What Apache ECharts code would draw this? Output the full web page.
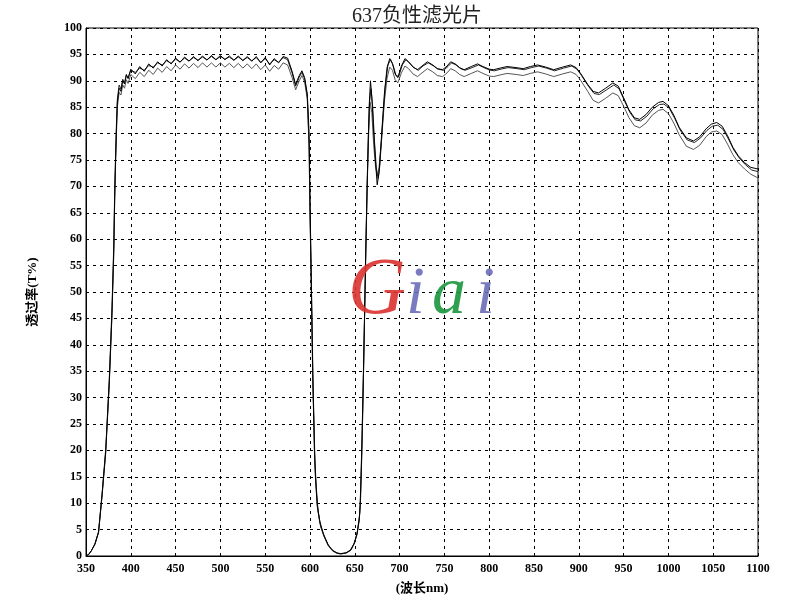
<!DOCTYPE html>
<html>
<head>
<meta charset="utf-8">
<script src="https://cdn.jsdelivr.net/npm/echarts@6/dist/echarts.min.js"></script>
<style>html,body{margin:0;padding:0;background:#fff}#c{width:800px;height:600px}</style>
</head>
<body>
<div id="c"></div>
<script>
const chartTitle = '637负性滤光片';
const xName = '(波长nm)';
const yName = '透过率(T%)';
const xTicks = [350, 1100, 50];
const yTicks = [0, 100, 5];
const watermark = ['G', 'i', 'a', 'i'];

const curveA = [[350,0],[353,0.3],[356,1],[360,2.3],[364,4.5],[368,11.7],[372,19.8],[376,33],[379,46],[381,58],[382,68],[383,75],[384,81],[385,86],[387,88.6],[389,88],[391,90],[393,89.4],[395,91.2],[397,90.4],[400,92.2],[405,91.3],[410,92.7],[415,91.8],[420,93.2],[425,92.4],[430,93.6],[435,92.8],[440,94.0],[445,93.2],[450,94.3],[455,93.5],[460,94.5],[465,93.7],[470,94.6],[475,93.8],[480,94.7],[485,93.9],[490,94.8],[495,94.0],[500,94.8],[505,94.0],[510,94.7],[515,93.9],[520,94.7],[525,93.8],[530,94.6],[535,93.7],[540,94.6],[545,93.4],[550,94.4],[555,93.0],[560,94.2],[565,93.4],[570,94.6],[575,94.3],[580,91.8],[584,89.3],[588,91.0],[591,91.9],[594,90.6],[597,87.5],[599,80],[600,68],[601,57],[603,35],[605,20],[606,15.5],[608,9.8],[611,6.5],[615,4.2],[620,2.2],[625,1.1],[630,0.6],[634,0.45],[640,0.6],[645,1.1],[649,2.3],[652.5,4.2],[655,7],[656,9.8],[657,15.5],[658,22],[660,38],[662,56],[664,72],[666,85],[667.5,90],[669,87],[671,80.5],[673,75],[675,70.3],[677,72.5],[680,80],[683,87.5],[686,92.5],[689,94.2],[692,93.3],[695,91.3],[698,90.6],[702,92.8],[706,94.2],[710,93.6],[715,92.6],[720,92.1],[725,92.8],[731,93.6],[737,93.0],[742,92.3],[748,92.1],[753,92.8],[757,93.6],[762,93.2],[767,92.5],[772,92.1],[780,92.7],[787,93.2],[793,92.7],[800,92.2],[805,92.1],[812,92.4],[820,92.7],[830,92.5],[838,92.3],[846,92.7],[854,93.0],[863,92.6],[872,92.1],[882,92.6],[891,93.0],[897,92.5],[902,91.4],[910,89.3],[916,88.0],[922,87.7],[930,88.6],[938,89.6],[944,89.0],[950,86.8],[956,84.5],[962,83.0],[968,82.7],[975,83.6],[982,85.0],[989,85.9],[994,86.1],[1000,85.3],[1006,83.5],[1012,81.2],[1020,79.2],[1028,78.6],[1035,79.4],[1042,80.9],[1048,81.8],[1054,82.1],[1060,81.4],[1066,79.6],[1072,77.4],[1078,75.8],[1085,74.5],[1092,73.6],[1100,73.3]];

const curveB = [[350,0],[353,0.3],[356,1],[360,2.3],[364,4.6],[368,11.9],[372,20.2],[376,33.5],[379,47],[381,59],[382,69],[383,76],[384,82],[385,86.5],[387,89.2],[389,88.4],[391,90.3],[393,89.6],[395,91.0],[397,90.6],[400,92.0],[405,91.6],[410,92.4],[415,92.0],[420,92.9],[425,92.6],[430,93.4],[435,93.0],[440,93.8],[445,93.3],[450,94.1],[455,93.6],[460,94.3],[465,93.8],[470,94.4],[475,93.9],[480,94.5],[485,94.0],[490,94.6],[495,94.0],[500,94.6],[505,94.1],[510,94.5],[515,93.9],[520,94.5],[525,93.9],[530,94.4],[535,93.8],[540,94.4],[545,93.5],[550,94.2],[555,93.2],[560,94.0],[565,93.5],[570,94.4],[575,94.0],[580,91.5],[584,89.0],[588,90.7],[591,91.6],[594,90.4],[597,87.0],[599,78],[600,65],[601.5,52],[603.5,32],[605.5,18],[607,13],[609,8.5],[612,5.5],[616,3.6],[621,1.9],[626,0.9],[631,0.5],[635,0.4],[641,0.6],[646,1.2],[650,2.6],[653,4.8],[655.5,8],[656.5,11],[657.5,17],[659,28],[661,46],[663,64],[665,79],[666.5,86],[668,88.5],[670,85],[672,78.5],[674,73.5],[676,71.5],[678,74],[681,82],[684,89],[687,93],[690,94],[693,92.8],[696,91],[699,90.8],[703,93.0],[707,94.0],[711,93.4],[716,92.5],[721,92.0],[726,92.8],[732,93.4],[738,92.8],[743,92.2],[749,92.0],[754,92.7],[758,93.4],[763,93.0],[768,92.3],[773,92.0],[781,92.5],[788,93.0],[794,92.5],[801,92.0],[806,91.9],[813,92.2],[821,92.5],[831,92.3],[839,92.1],[847,92.5],[855,92.8],[864,92.4],[873,91.9],[883,92.4],[892,92.8],[898,92.2],[903,91.0],[911,88.9],[917,87.6],[923,87.4],[931,88.3],[939,89.2],[945,88.5],[951,86.2],[957,84.0],[963,82.6],[969,82.4],[976,83.3],[983,84.7],[990,85.5],[995,85.6],[1001,84.8],[1007,82.9],[1013,80.7],[1021,78.8],[1029,78.3],[1036,79.2],[1043,80.6],[1049,81.4],[1055,81.6],[1061,80.8],[1067,79.0],[1073,76.9],[1079,75.4],[1086,74.1],[1093,73.1],[1100,72.8]];

const curveC = [[350,0],[353,0.3],[356,1],[360,2.2],[364,4.4],[368,11.5],[372,19.5],[376,32.5],[379,45.5],[381,57],[382,67],[383,74],[384,80],[385,85],[387,87.8],[389,87.3],[391,89.2],[393,88.6],[395,90.2],[397,89.5],[400,91.2],[405,90.4],[410,91.6],[415,90.8],[420,92.0],[425,91.2],[430,92.4],[435,91.6],[440,92.7],[445,91.9],[450,93.0],[455,92.2],[460,93.2],[465,92.4],[470,93.3],[475,92.5],[480,93.4],[485,92.6],[490,93.4],[495,92.6],[500,93.4],[505,92.6],[510,93.3],[515,92.5],[520,93.3],[525,92.4],[530,93.2],[535,92.3],[540,93.2],[545,92.1],[550,93.0],[555,91.8],[560,92.9],[565,92.2],[570,93.4],[575,93.0],[580,90.6],[584,88.3],[588,90.0],[591,91.0],[594,89.8],[597,86.5],[599,77],[600,64],[601,55],[603,34],[605,19.5],[606,15],[608,9.5],[611,6.2],[615,4.0],[620,2.0],[625,1.0],[630,0.5],[634,0.4],[640,0.55],[645,1.0],[649,2.2],[652.5,4.0],[655,6.8],[656,9.5],[657,15],[658,21],[660,37],[662,55],[664,71],[665.5,80],[667,86],[669,84],[671,78],[673,74],[675,72],[677,73.5],[680,79],[683,86],[686,90.5],[689,92.6],[692,92.0],[695,90.2],[698,89.6],[702,91.5],[706,92.8],[710,92.3],[715,91.3],[720,90.8],[725,91.5],[731,92.3],[737,91.7],[742,91.0],[748,90.8],[753,91.5],[757,92.3],[762,91.9],[767,91.2],[772,90.8],[780,91.4],[787,91.9],[793,91.4],[800,90.9],[805,90.8],[812,91.1],[820,91.4],[830,91.2],[838,91.0],[846,91.4],[854,91.7],[863,91.3],[872,90.8],[882,91.3],[891,91.7],[897,91.2],[902,90.1],[910,88.0],[916,86.3],[922,85.8],[930,86.7],[938,87.7],[944,87.2],[950,85.2],[956,83.0],[962,81.5],[968,81.1],[975,82.0],[982,83.5],[989,84.4],[994,84.6],[1000,83.8],[1006,82.0],[1012,79.8],[1020,77.6],[1028,77.0],[1035,77.8],[1042,79.4],[1048,80.3],[1054,80.5],[1060,79.8],[1066,78.0],[1072,76.0],[1078,74.5],[1085,73.3],[1092,72.3],[1100,71.6]];

const chart = echarts.init(document.getElementById('c'), null, {renderer: 'canvas'});
const labelFont = {fontFamily: 'Liberation Serif', fontWeight: 'bold', fontSize: 12, color: '#000'};
const dashed = {show: true, lineStyle: {color: '#000', type: [3, 4], width: 1}};
const wmFont = 'Liberation Serif';
chart.setOption({
  animation: false,
  backgroundColor: '#fff',
  title: {
    text: chartTitle, left: 347, top: 2,
    textStyle: {fontFamily: "'Liberation Serif','Noto Sans CJK SC'", fontWeight: 'normal', fontSize: 20, color: '#222'}
  },
  grid: {left: 86, right: 42, top: 28, bottom: 38, show: true, borderColor: '#000', borderWidth: 1},
  xAxis: {
    type: 'value', min: xTicks[0], max: xTicks[1], interval: xTicks[2],
    name: xName, nameLocation: 'middle', nameGap: 26,
    nameTextStyle: {fontFamily: "'Liberation Serif','Noto Sans CJK SC'", fontWeight: 'bold', fontSize: 13, color: '#000'},
    axisLine: {lineStyle: {color: '#000', width: 1}}, axisTick: {show: false},
    axisLabel: Object.assign({margin: 7, formatter: v => String(v)}, labelFont),
    splitLine: dashed
  },
  yAxis: {
    type: 'value', min: yTicks[0], max: yTicks[1], interval: yTicks[2],
    name: yName, nameLocation: 'middle', nameGap: 47, nameRotate: 90,
    nameTextStyle: {fontFamily: "'Liberation Serif','Noto Sans CJK SC'", fontWeight: 'bold', fontSize: 13, color: '#000'},
    axisLine: {lineStyle: {color: '#000', width: 1}}, axisTick: {show: false},
    axisLabel: Object.assign({margin: 4, formatter: v => String(v)}, labelFont),
    splitLine: dashed
  },
  graphic: [
    {type: 'text', left: 348, top: 252, z: 10, style: {text: watermark[0], font: 'italic 80px ' + wmFont, fill: '#d9322e', opacity: 0.9}},
    {type: 'text', left: 406, top: 261, z: 10, style: {text: watermark[1], font: 'italic 68px ' + wmFont, fill: '#6a6db8', opacity: 0.9}},
    {type: 'text', left: 432, top: 261, z: 10, style: {text: watermark[2], font: 'italic 68px ' + wmFont, fill: '#17963c', opacity: 0.9}},
    {type: 'text', left: 476, top: 261, z: 10, style: {text: watermark[3], font: 'italic 68px ' + wmFont, fill: '#6a6db8', opacity: 0.9}}
  ],
  series: [
    {type: 'line', data: curveC, symbol: 'none', lineStyle: {color: '#555', width: 1}, z: 3},
    {type: 'line', data: curveB, symbol: 'none', lineStyle: {color: '#222', width: 1}, z: 4},
    {type: 'line', data: curveA, symbol: 'none', lineStyle: {color: '#000', width: 1}, z: 5}
  ]
});
</script>
</body>
</html>
